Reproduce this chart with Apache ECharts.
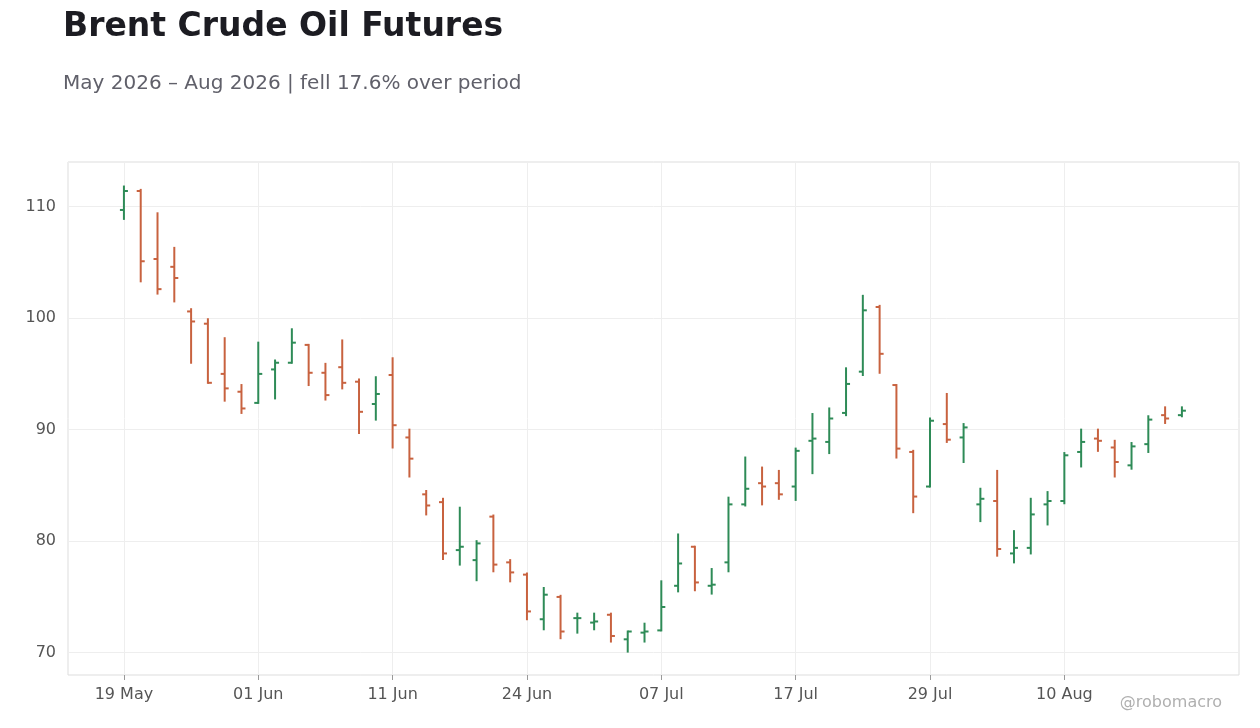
<!DOCTYPE html>
<html><head><meta charset="utf-8">
<script src="https://cdn.jsdelivr.net/npm/echarts@6/dist/echarts.min.js"></script>
<style>html,body{margin:0;padding:0;background:#fff}#c{width:1260px;height:728px}</style>
</head><body><div id="c"></div>
<script>
const dates = ["19 May","20 May","21 May","22 May","26 May","27 May","28 May","29 May",
"01 Jun","02 Jun","03 Jun","04 Jun","05 Jun","08 Jun","09 Jun","10 Jun",
"11 Jun","12 Jun","15 Jun","16 Jun","17 Jun","18 Jun","22 Jun","23 Jun",
"24 Jun","25 Jun","26 Jun","29 Jun","30 Jun","01 Jul","02 Jul","06 Jul",
"07 Jul","08 Jul","09 Jul","10 Jul","13 Jul","14 Jul","15 Jul","16 Jul",
"17 Jul","20 Jul","21 Jul","22 Jul","23 Jul","24 Jul","27 Jul","28 Jul",
"29 Jul","30 Jul","31 Jul","03 Aug","04 Aug","05 Aug","06 Aug","07 Aug",
"10 Aug","11 Aug","12 Aug","13 Aug","14 Aug","17 Aug","18 Aug","19 Aug"];
const open  = [109.7,111.4,105.3,104.6,100.6,99.5,95.0,93.4,92.4,95.4,96.0,97.6,95.1,95.6,94.3,92.3,94.9,89.3,84.2,83.5,79.2,78.3,82.2,78.1,77.0,73.0,75.0,73.1,72.7,73.4,71.2,71.8,72.0,76.0,79.5,76.0,78.1,83.3,85.2,85.2,84.9,89.0,88.9,91.5,95.2,101.0,94.0,88.0,84.9,90.5,89.3,83.3,83.6,78.9,79.4,83.3,83.6,88.0,89.2,88.4,86.8,88.7,91.3,91.3];
const high  = [111.8,111.5,109.4,106.3,100.8,99.9,98.2,94.0,97.8,96.2,99.0,97.6,95.9,98.0,94.5,94.7,96.4,90.0,84.5,83.8,83.0,80.0,82.3,78.3,77.1,75.8,75.1,73.5,73.5,73.5,71.9,72.6,76.4,80.6,79.5,77.5,83.9,87.5,86.6,86.3,88.3,91.4,91.9,95.5,102.0,101.1,94.0,88.1,91.0,93.2,90.5,84.7,86.3,80.9,83.8,84.4,87.9,90.0,90.0,89.0,88.8,91.2,92.0,92.0];
const low   = [108.9,103.3,102.2,101.5,96.0,94.2,92.6,91.5,92.4,92.8,96.0,94.0,92.7,93.7,89.7,90.9,88.4,85.8,82.4,78.4,77.9,76.5,77.3,76.4,73.0,72.1,71.3,71.8,72.1,71.0,70.1,71.0,72.0,75.5,75.6,75.3,77.3,83.2,83.3,83.8,83.7,86.1,87.9,91.3,94.9,95.1,87.5,82.6,84.9,88.9,87.1,81.8,78.7,78.1,78.9,81.5,83.4,86.7,88.1,85.8,86.5,88.0,90.6,91.2];
const close = [111.4,105.1,102.6,103.6,99.7,94.2,93.7,91.9,95.0,96.0,97.8,95.1,93.1,94.2,91.6,93.2,90.4,87.4,83.2,78.9,79.5,79.8,77.9,77.2,73.7,75.2,71.9,73.1,72.8,71.5,71.9,71.9,74.1,78.0,76.3,76.1,83.3,84.7,84.9,84.2,88.1,89.2,91.0,94.1,100.7,96.8,88.3,84.0,90.8,89.1,90.2,83.8,79.3,79.4,82.4,83.6,87.7,88.9,89.0,87.1,88.5,90.9,91.0,91.7];
const labelIdx = [0,8,16,24,32,40,48,56];

const data = dates.map((d,i)=>[i,open[i],high[i],low[i],close[i]]);
const UP='#2e8b57', DOWN='#c8623f';
const chart = echarts.init(document.getElementById('c'));
chart.setOption({
  animation:false,
  title:{text:'Brent Crude Oil Futures',subtext:'May 2026 – Aug 2026 | fell 17.6% over period',left:58,top:6,
    textStyle:{fontFamily:'DejaVu Sans',fontSize:33,fontWeight:'bold',color:'#1c1c22'},
    subtextStyle:{fontFamily:'DejaVu Sans',fontSize:20,color:'#60606a'},itemGap:30},
  graphic:[{type:'text',right:38,top:695,style:{text:'@robomacro',font:'16px DejaVu Sans',fill:'#b0b0b0'}}],
  grid:{left:68,right:21,top:162,bottom:53,show:true,borderColor:'#dddddd',borderWidth:1},
  xAxis:{type:'value',min:-3.33,max:66.4,
    axisLine:{show:false},
    axisTick:{show:true,length:5,lineStyle:{color:'#999'},customValues:labelIdx},
    axisLabel:{customValues:labelIdx,formatter:v=>dates[Math.round(v)]||'',color:'#555',fontSize:16,fontFamily:'DejaVu Sans',margin:12},
    splitLine:{show:true,lineStyle:{color:'#eeeeee'}}},
  yAxis:{type:'value',min:68,max:114,splitNumber:5,
    axisLine:{show:false},axisTick:{show:false},
    axisLabel:{showMinLabel:false,showMaxLabel:false,color:'#555',fontSize:16,fontFamily:'DejaVu Sans',margin:12},
    splitLine:{lineStyle:{color:'#eeeeee'}}},
  series:[{type:'custom',data:data,
    encode:{x:0,y:[1,2,3,4]},
    renderItem:function(params,api){
      const x=api.value(0),o=api.value(1),h=api.value(2),l=api.value(3),c=api.value(4);
      const pH=api.coord([x,h]),pL=api.coord([x,l]),pO=api.coord([x,o]),pC=api.coord([x,c]);
      const col=c>=o?UP:DOWN, t=4;
      const st={stroke:col,lineWidth:2};
      return {type:'group',children:[
        {type:'line',shape:{x1:pH[0],y1:pH[1]-1,x2:pL[0],y2:pL[1]+1},style:st},
        {type:'line',shape:{x1:pO[0]-t,y1:pO[1],x2:pO[0],y2:pO[1]},style:st},
        {type:'line',shape:{x1:pC[0],y1:pC[1],x2:pC[0]+t,y2:pC[1]},style:st}
      ]};
    }}]
});
</script></body></html>
